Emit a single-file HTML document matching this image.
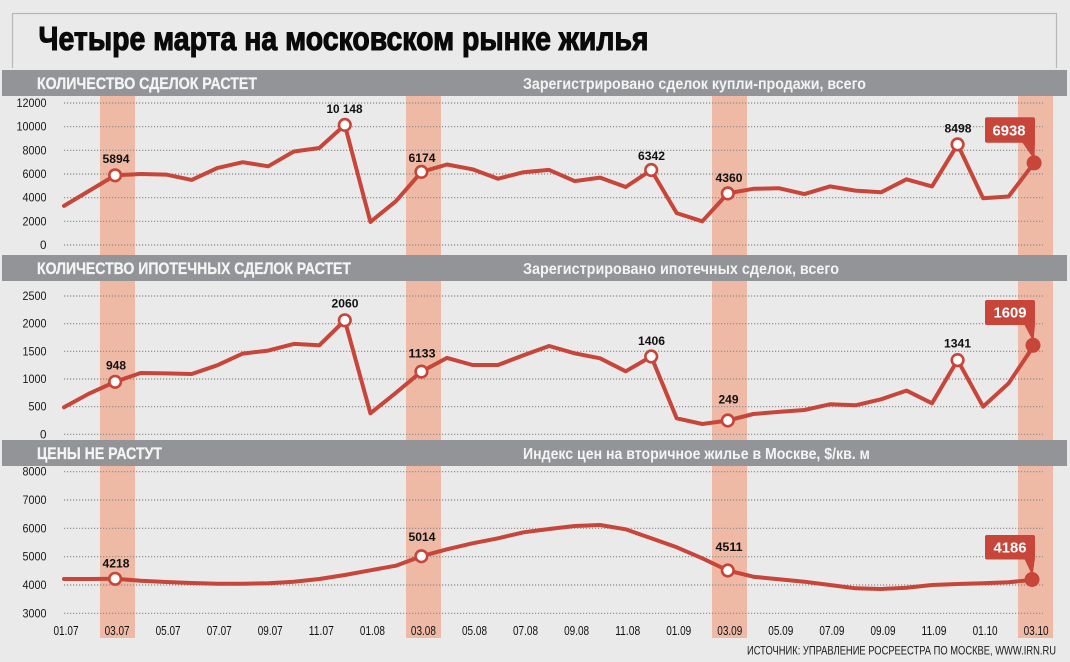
<!DOCTYPE html>
<html><head><meta charset="utf-8"><style>
html,body{margin:0;padding:0;background:#eaeaea;}
svg{display:block;}
text{font-family:"Liberation Sans","Noto Sans CJK SC",sans-serif;}
</style></head><body>
<svg width="1070" height="662" viewBox="0 0 1070 662" xmlns="http://www.w3.org/2000/svg">
<rect x="0" y="0" width="1070" height="662" fill="#eaeaea"/>
<!-- title box -->
<path d="M12.5,68 L12.5,13.5 L1056.5,13.5 L1056.5,68" fill="none" stroke="#b8b8b8" stroke-width="1.2"/>
<text x="38.5" y="50" font-size="33" font-weight="bold" fill="#0a0a0a" stroke="#0a0a0a" stroke-width="1.1" textLength="610" lengthAdjust="spacingAndGlyphs">Четыре марта на московском рынке жилья</text>

<!-- bands -->
<g fill="#eebaa6">
<rect x="100" y="96" width="35" height="542"/>
<rect x="406" y="96" width="35" height="542"/>
<rect x="712" y="96" width="35" height="542"/>
<rect x="1018" y="96" width="35" height="542"/>
</g>

<!-- header bars -->
<g fill="#929497">
<rect x="2" y="70" width="1065" height="26"/>
<rect x="2" y="255" width="1065" height="26"/>
<rect x="2" y="440" width="1065" height="26"/>
</g>
<g fill="#f4f4f4" font-weight="bold">
<text x="37" y="89" font-size="17" stroke="#f4f4f4" stroke-width="0.3" textLength="220" lengthAdjust="spacingAndGlyphs">КОЛИЧЕСТВО СДЕЛОК РАСТЕТ</text>
<text x="523" y="89" font-size="15.5" textLength="343" lengthAdjust="spacingAndGlyphs">Зарегистрировано сделок купли-продажи, всего</text>
<text x="37" y="274" font-size="17" stroke="#f4f4f4" stroke-width="0.3" textLength="314" lengthAdjust="spacingAndGlyphs">КОЛИЧЕСТВО ИПОТЕЧНЫХ СДЕЛОК РАСТЕТ</text>
<text x="523" y="274" font-size="15.5" textLength="316" lengthAdjust="spacingAndGlyphs">Зарегистрировано ипотечных сделок, всего</text>
<text x="37" y="459" font-size="17" stroke="#f4f4f4" stroke-width="0.3" textLength="125" lengthAdjust="spacingAndGlyphs">ЦЕНЫ НЕ РАСТУТ</text>
<text x="523" y="459" font-size="15.5" textLength="347" lengthAdjust="spacingAndGlyphs">Индекс цен на вторичное жилье в Москве, $/кв. м</text>
</g>

<!-- gridlines -->
<g stroke="#8a8a8a" stroke-width="1.2" stroke-dasharray="1.2 1.8">
<line x1="64" x2="1043" y1="103" y2="103"/>
<line x1="64" x2="1043" y1="126.7" y2="126.7"/>
<line x1="64" x2="1043" y1="150.3" y2="150.3"/>
<line x1="64" x2="1043" y1="174" y2="174"/>
<line x1="64" x2="1043" y1="197.7" y2="197.7"/>
<line x1="64" x2="1043" y1="221.3" y2="221.3"/>
<line x1="64" x2="1043" y1="245" y2="245"/>
<line x1="64" x2="1043" y1="296" y2="296"/>
<line x1="64" x2="1043" y1="323.7" y2="323.7"/>
<line x1="64" x2="1043" y1="351.3" y2="351.3"/>
<line x1="64" x2="1043" y1="379" y2="379"/>
<line x1="64" x2="1043" y1="406.7" y2="406.7"/>
<line x1="64" x2="1043" y1="434.3" y2="434.3"/>
<line x1="64" x2="1043" y1="471.7" y2="471.7"/>
<line x1="64" x2="1043" y1="500" y2="500"/>
<line x1="64" x2="1043" y1="528.3" y2="528.3"/>
<line x1="64" x2="1043" y1="556.7" y2="556.7"/>
<line x1="64" x2="1043" y1="585" y2="585"/>
<line x1="64" x2="1043" y1="613.3" y2="613.3"/>
</g>

<!-- y labels -->
<g font-size="12" fill="#1a1a1a" text-anchor="end">
<text x="46.5" y="107" textLength="30" lengthAdjust="spacingAndGlyphs">12000</text>
<text x="46.5" y="130.7" textLength="30" lengthAdjust="spacingAndGlyphs">10000</text>
<text x="46.5" y="154.3" textLength="24" lengthAdjust="spacingAndGlyphs">8000</text>
<text x="46.5" y="178" textLength="24" lengthAdjust="spacingAndGlyphs">6000</text>
<text x="46.5" y="201.7" textLength="24" lengthAdjust="spacingAndGlyphs">4000</text>
<text x="46.5" y="225.3" textLength="24" lengthAdjust="spacingAndGlyphs">2000</text>
<text x="46.5" y="249" textLength="6.5" lengthAdjust="spacingAndGlyphs">0</text>
<text x="46.5" y="300" textLength="24" lengthAdjust="spacingAndGlyphs">2500</text>
<text x="46.5" y="327.7" textLength="24" lengthAdjust="spacingAndGlyphs">2000</text>
<text x="46.5" y="355.3" textLength="24" lengthAdjust="spacingAndGlyphs">1500</text>
<text x="46.5" y="383" textLength="24" lengthAdjust="spacingAndGlyphs">1000</text>
<text x="46.5" y="410.7" textLength="18" lengthAdjust="spacingAndGlyphs">500</text>
<text x="46.5" y="438.3" textLength="6.5" lengthAdjust="spacingAndGlyphs">0</text>
<text x="46.5" y="475.7" textLength="24" lengthAdjust="spacingAndGlyphs">8000</text>
<text x="46.5" y="504" textLength="24" lengthAdjust="spacingAndGlyphs">7000</text>
<text x="46.5" y="532.3" textLength="24" lengthAdjust="spacingAndGlyphs">6000</text>
<text x="46.5" y="560.7" textLength="24" lengthAdjust="spacingAndGlyphs">5000</text>
<text x="46.5" y="589" textLength="24" lengthAdjust="spacingAndGlyphs">4000</text>
<text x="46.5" y="617.3" textLength="24" lengthAdjust="spacingAndGlyphs">3000</text>
</g>

<!-- x labels -->
<g font-size="12.5" fill="#111" text-anchor="middle">
<text x="66" y="635" textLength="25" lengthAdjust="spacingAndGlyphs">01.07</text>
<text x="117.1" y="635" textLength="25" lengthAdjust="spacingAndGlyphs">03.07</text>
<text x="168.1" y="635" textLength="25" lengthAdjust="spacingAndGlyphs">05.07</text>
<text x="219.2" y="635" textLength="25" lengthAdjust="spacingAndGlyphs">07.07</text>
<text x="270.2" y="635" textLength="25" lengthAdjust="spacingAndGlyphs">09.07</text>
<text x="321.3" y="635" textLength="25" lengthAdjust="spacingAndGlyphs">11.07</text>
<text x="372.4" y="635" textLength="25" lengthAdjust="spacingAndGlyphs">01.08</text>
<text x="423.4" y="635" textLength="25" lengthAdjust="spacingAndGlyphs">03.08</text>
<text x="474.5" y="635" textLength="25" lengthAdjust="spacingAndGlyphs">05.08</text>
<text x="525.5" y="635" textLength="25" lengthAdjust="spacingAndGlyphs">07.08</text>
<text x="576.6" y="635" textLength="25" lengthAdjust="spacingAndGlyphs">09.08</text>
<text x="627.7" y="635" textLength="25" lengthAdjust="spacingAndGlyphs">11.08</text>
<text x="678.7" y="635" textLength="25" lengthAdjust="spacingAndGlyphs">01.09</text>
<text x="729.8" y="635" textLength="25" lengthAdjust="spacingAndGlyphs">03.09</text>
<text x="780.8" y="635" textLength="25" lengthAdjust="spacingAndGlyphs">05.09</text>
<text x="831.9" y="635" textLength="25" lengthAdjust="spacingAndGlyphs">07.09</text>
<text x="883" y="635" textLength="25" lengthAdjust="spacingAndGlyphs">09.09</text>
<text x="934" y="635" textLength="25" lengthAdjust="spacingAndGlyphs">11.09</text>
<text x="985.1" y="635" textLength="25" lengthAdjust="spacingAndGlyphs">01.10</text>
<text x="1036.1" y="635" textLength="25" lengthAdjust="spacingAndGlyphs">03.10</text>
</g>

<!-- lines -->
<g fill="none" stroke="#c8453a" stroke-width="4" stroke-linejoin="round" stroke-linecap="round">
<polyline points="64.0,205.9 89.5,190.6 115.1,175.3 140.6,174.0 166.1,174.6 191.7,179.9 217.2,168.1 242.7,162.2 268.2,166.3 293.8,151.5 319.3,148.0 344.8,124.9 370.4,221.9 395.9,201.2 421.4,171.9 447.0,164.5 472.5,169.3 498.0,178.7 523.5,172.2 549.1,169.9 574.6,181.1 600.1,177.6 625.7,187.0 651.2,170.0 676.7,213.1 702.3,221.3 727.8,193.4 753.3,188.8 778.8,188.2 804.4,194.1 829.9,186.4 855.4,190.6 881.0,192.3 906.5,179.3 932.0,186.4 957.6,144.4 983.1,198.3 1008.6,196.5 1034.1,162.9"/>
<polyline points="64.0,407.3 89.5,393.4 115.1,381.8 140.6,373.0 166.1,373.4 191.7,374.0 217.2,365.3 242.7,353.6 268.2,350.6 293.8,343.9 319.3,345.3 344.8,320.3 370.4,413.3 395.9,392.8 421.4,371.6 447.0,357.9 472.5,365.0 498.0,365.0 523.5,355.3 549.1,346.0 574.6,353.3 600.1,358.3 625.7,371.3 651.2,356.5 676.7,418.3 702.3,424.0 727.8,420.5 753.3,414.0 778.8,411.9 804.4,410.0 829.9,404.3 855.4,405.3 881.0,399.3 906.5,390.6 932.0,403.3 957.6,360.1 983.1,406.6 1008.6,383.3 1034.1,345.3"/>
<polyline points="64.0,579.0 89.5,579.0 115.1,578.8 140.6,580.7 166.1,582.0 191.7,583.0 217.2,583.7 242.7,583.7 268.2,583.3 293.8,581.7 319.3,579.0 344.8,575.0 370.4,570.3 395.9,565.7 421.4,556.2 447.0,549.3 472.5,543.3 498.0,538.3 523.5,532.3 549.1,529.0 574.6,526.0 600.1,525.0 625.7,529.3 651.2,538.3 676.7,547.3 702.3,558.3 727.8,570.5 753.3,576.7 778.8,579.3 804.4,581.7 829.9,585.0 855.4,588.3 881.0,589.0 906.5,587.7 932.0,585.0 957.6,584.0 983.1,583.3 1008.6,582.3 1034.1,579.7"/>
</g>

<!-- hollow markers -->
<g fill="#ffffff" stroke="#c8453a" stroke-width="2.6">
<circle cx="115.1" cy="175.3" r="5.8"/>
<circle cx="344.8" cy="124.9" r="5.8"/>
<circle cx="421.4" cy="171.9" r="5.8"/>
<circle cx="651.2" cy="170.0" r="5.8"/>
<circle cx="727.8" cy="193.4" r="5.8"/>
<circle cx="957.6" cy="144.4" r="5.8"/>
<circle cx="115.1" cy="381.8" r="5.8"/>
<circle cx="344.8" cy="320.3" r="5.8"/>
<circle cx="421.4" cy="371.6" r="5.8"/>
<circle cx="651.2" cy="356.5" r="5.8"/>
<circle cx="727.8" cy="420.5" r="5.8"/>
<circle cx="957.6" cy="360.1" r="5.8"/>
<circle cx="115.1" cy="578.8" r="5.8"/>
<circle cx="421.4" cy="556.2" r="5.8"/>
<circle cx="727.8" cy="570.5" r="5.8"/>
</g>

<!-- marker labels -->
<g font-size="12" font-weight="bold" fill="#111" text-anchor="middle">
<text x="116" y="163" textLength="27" lengthAdjust="spacingAndGlyphs">5894</text>
<text x="344.5" y="113" textLength="36" lengthAdjust="spacingAndGlyphs">10 148</text>
<text x="422" y="162" textLength="27" lengthAdjust="spacingAndGlyphs">6174</text>
<text x="651.5" y="160" textLength="27" lengthAdjust="spacingAndGlyphs">6342</text>
<text x="729" y="182" textLength="27" lengthAdjust="spacingAndGlyphs">4360</text>
<text x="958" y="132.5" textLength="27" lengthAdjust="spacingAndGlyphs">8498</text>
<text x="116" y="369.5" textLength="20" lengthAdjust="spacingAndGlyphs">948</text>
<text x="345" y="307.5" textLength="27" lengthAdjust="spacingAndGlyphs">2060</text>
<text x="422" y="357.5" textLength="27" lengthAdjust="spacingAndGlyphs">1133</text>
<text x="651.5" y="345" textLength="27" lengthAdjust="spacingAndGlyphs">1406</text>
<text x="728.5" y="403.5" textLength="20" lengthAdjust="spacingAndGlyphs">249</text>
<text x="957.5" y="347.5" textLength="27" lengthAdjust="spacingAndGlyphs">1341</text>
<text x="116" y="567.5" textLength="27" lengthAdjust="spacingAndGlyphs">4218</text>
<text x="422" y="541" textLength="27" lengthAdjust="spacingAndGlyphs">5014</text>
<text x="729" y="551" textLength="27" lengthAdjust="spacingAndGlyphs">4511</text>
</g>

<!-- callouts -->
<g fill="#c8453a">
<rect x="985" y="117.3" width="50" height="25.5" rx="2"/>
<polygon points="1022,142 1035,142 1034.5,160"/>
<circle cx="1034.1" cy="162.9" r="7.5"/>
<rect x="985" y="300" width="50" height="25" rx="2"/>
<polygon points="1024,324 1035,324 1033.5,342"/>
<circle cx="1033" cy="345.3" r="7.5"/>
<rect x="985" y="535" width="50" height="24.5" rx="2"/>
<polygon points="1024,558 1035,558 1032.5,576"/>
<circle cx="1032" cy="579.5" r="7.5"/>
</g>
<g font-size="14.5" font-weight="bold" fill="#ffffff" text-anchor="middle">
<text x="1009" y="135.5" textLength="33" lengthAdjust="spacingAndGlyphs">6938</text>
<text x="1010" y="317.3" textLength="33" lengthAdjust="spacingAndGlyphs">1609</text>
<text x="1010" y="552.3" textLength="33" lengthAdjust="spacingAndGlyphs">4186</text>
</g>

<!-- source -->
<text x="747" y="654.3" font-size="11.5" fill="#1a1a1a" textLength="309" lengthAdjust="spacingAndGlyphs">ИСТОЧНИК: УПРАВЛЕНИЕ РОСРЕЕСТРА ПО МОСКВЕ, WWW.IRN.RU</text>
</svg>
</body></html>
